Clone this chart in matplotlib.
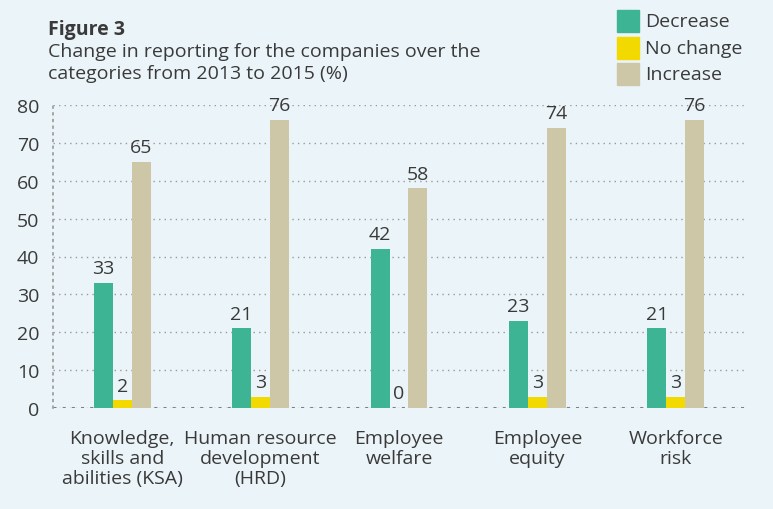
import matplotlib.pyplot as plt
from matplotlib.patches import Rectangle

categories = ['Knowledge,\nskills and\nabilities (KSA)', 'Human resource\ndevelopment\n(HRD)',
              'Employee\nwelfare', 'Employee\nequity', 'Workforce\nrisk']
decrease = [33, 21, 42, 23, 21]
no_change = [2, 3, 0, 3, 3]
increase = [65, 76, 58, 74, 76]
series_names = ['Decrease', 'No change', 'Increase']

bg = '#ebf4f8'
c_dec = '#3db594'
c_nc = '#f2d900'
c_inc = '#cdc7a8'
txt = '#3a3a3a'
fs = 14

plt.rcParams['font.family'] = ['Open Sans', 'DejaVu Sans']

W, H = 773, 510
fig = plt.figure(figsize=(W / 100, H / 100), dpi=100, facecolor=bg)
ax = fig.add_axes([53 / W, 1 - 409 / H, (745 - 53) / W, 303 / H])
ax.set_facecolor(bg)

w = 0.137
x = list(range(len(categories)))
series = [(decrease, c_dec, -w), (no_change, c_nc, 0), (increase, c_inc, w)]
for vals, col, off in series:
    pos = [i + off for i in x]
    ax.bar(pos, vals, width=w, color=col, zorder=3)
    for p, v in zip(pos, vals):
        ax.text(p, v + 1.5, str(v), ha='center', va='bottom', fontsize=fs, color=txt, zorder=4)

ax.set_xlim(-0.5, 4.5)
ax.set_ylim(0, 80)
ax.set_yticks(range(0, 81, 10))
ax.tick_params(axis='y', length=0, labelsize=fs, labelcolor=txt, pad=10)
ax.set_xticks(x)
ax.set_xticklabels(categories, fontsize=fs, color=txt, linespacing=1.15)
ax.tick_params(axis='x', length=0, pad=15)

for s in ['top', 'right', 'bottom']:
    ax.spines[s].set_visible(False)
ax.spines['left'].set_linestyle((0, (1, 3)))
ax.spines['left'].set_color('#9a9a9a')
ax.spines['left'].set_linewidth(1.2)

ax.grid(axis='y', linestyle=(0, (1, 3)), color='#9a9a9a', linewidth=1, zorder=0)
ax.axhline(0, linestyle=(0, (1, 2)), color='#808080', linewidth=2.2, zorder=2)

fig.text(48 / W, 1 - 30 / H, 'Figure 3', fontsize=fs, fontweight='bold', color=txt, va='center')
fig.text(48 / W, 1 - 52 / H, 'Change in reporting for the companies over the', fontsize=fs,
         color=txt, va='center')
fig.text(48 / W, 1 - 74 / H, 'categories from 2013 to 2015 (%)', fontsize=fs,
         color=txt, va='center')

# legend, drawn by hand to match the square swatches
for k, (name, col) in enumerate(zip(series_names, [c_dec, c_nc, c_inc])):
    top = 11 + 26.5 * k
    fig.add_artist(Rectangle((617 / W, 1 - (top + 22) / H), 22 / W, 22 / H,
                             color=col, transform=fig.transFigure))
    fig.text(645 / W, 1 - (top + 11) / H, name, fontsize=fs, color=txt, va='center')

fig.savefig('out.png', dpi=100, facecolor=bg)
